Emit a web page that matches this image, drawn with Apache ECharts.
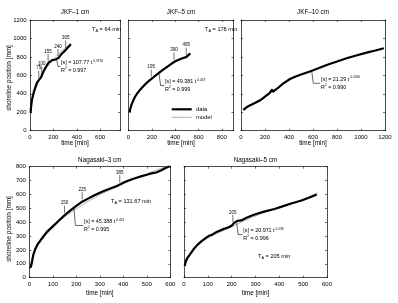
<!DOCTYPE html>
<html><head><meta charset="utf-8">
<script src="https://cdn.jsdelivr.net/npm/echarts@6/dist/echarts.min.js"></script>
<style>html,body{margin:0;padding:0;background:#fff}#c{width:398px;height:303px}</style>
</head><body><div id="c"></div>
<script>
// ---------- data ----------
const jkf1Time = [5, 8, 12, 18, 25, 32, 40, 50, 60, 68, 75, 85, 95, 105, 115, 130, 145, 160, 175, 190, 205, 220, 235, 245, 255, 270, 285, 300, 310, 320, 335, 350];
const jkf1Pos  = [190, 240, 290, 340, 380, 415, 448, 485, 520, 540, 548, 555, 580, 612, 642, 678, 710, 737, 755, 765, 770, 772, 775, 790, 808, 832, 852, 868, 882, 897, 918, 938];
const jkf1ModelTime = [5, 10, 20, 40, 60, 80, 100, 150, 200, 250, 300, 350];
const jkf1ModelPos  = [196, 253, 328, 424, 493, 549, 597, 694, 772, 839, 897, 950];
const jkf1Marks = [75, 100, 155, 240, 305];

const jkf5Time = [10, 15, 25, 40, 55, 75, 100, 125, 150, 175, 195, 220, 250, 280, 310, 340, 370, 390, 410, 440, 470, 495, 510, 530];
const jkf5Pos  = [200, 235, 280, 325, 365, 405, 445, 480, 512, 540, 560, 585, 615, 645, 673, 700, 728, 745, 757, 775, 788, 798, 815, 838];
const jkf5ModelTime = [10, 25, 50, 100, 150, 200, 300, 400, 500, 530];
const jkf5ModelPos  = [195, 272, 352, 442, 510, 565, 660, 745, 815, 832];
const jkf5Marks = [195, 390, 495];

const jkf10Time = [20, 40, 60, 90, 120, 160, 200, 240, 255, 260, 265, 300, 350, 408, 450, 500, 575, 650, 714, 800, 880, 960, 1047, 1120, 1190];
const jkf10Pos  = [225, 248, 265, 285, 302, 330, 370, 410, 425, 447, 422, 455, 510, 560, 585, 610, 642, 680, 713, 750, 785, 815, 846, 870, 894];
const jkf10ModelTime = [20, 50, 100, 200, 300, 400, 600, 800, 1000, 1190];
const jkf10ModelPos  = [215, 255, 295, 368, 455, 548, 655, 748, 830, 892];
const jkf10Marks = [];

const naga3Time = [3, 8, 12, 17, 25, 35, 50, 75, 100, 125, 150, 175, 200, 225, 250, 275, 300, 325, 350, 375, 390, 404, 425, 450, 475, 500, 520, 540, 560, 580, 600];
const naga3Pos  = [70, 85, 120, 165, 205, 240, 275, 330, 370, 410, 450, 485, 518, 548, 570, 592, 612, 630, 646, 662, 675, 688, 702, 717, 730, 742, 752, 758, 772, 790, 805];
const naga3ModelTime = [3, 10, 30, 50, 100, 150, 225, 300, 400, 500, 600];
const naga3ModelPos  = [72, 128, 210, 265, 362, 437, 524, 597, 677, 748, 813];
const naga3Marks = [150, 225, 385];

const naga5Time = [3, 8, 15, 25, 40, 55, 75, 95, 105, 110, 120, 137, 165, 185, 200, 210, 225, 232, 240, 260, 285, 309, 340, 380, 410, 450, 490, 521, 557];
const naga5Pos  = [85, 120, 145, 168, 205, 235, 265, 290, 302, 298, 312, 330, 350, 362, 375, 395, 410, 418, 413, 430, 448, 463, 478, 495, 512, 535, 555, 575, 600];
const naga5ModelTime = [3, 10, 25, 50, 100, 150, 200, 250, 300, 350, 400, 450, 500, 560];
const naga5ModelPos  = [78, 112, 162, 226, 285, 328, 368, 408, 445, 478, 510, 538, 565, 612];
const naga5Marks = [205];

// ---------- layout ----------
const FONT = '"Liberation Sans", Arial, Helvetica, sans-serif';
const panels = [
  {title:'JKF\u20131 cm', t:jkf1Time, s:jkf1Pos, mt:jkf1ModelTime, ms:jkf1ModelPos, marks:jkf1Marks,
   grid:{left:30, top:20, width:90, height:110.7}, xMax:770, xStep:200, yMax:1200, yStep:200, yLabels:true, row:0},
  {title:'JKF\u20135 cm', t:jkf5Time, s:jkf5Pos, mt:jkf5ModelTime, ms:jkf5ModelPos, marks:jkf5Marks,
   grid:{left:128.5, top:20, width:105, height:110.7}, xMax:900, xStep:200, yMax:1200, yStep:200, yLabels:false, row:0},
  {title:'JKF\u201310 cm', t:jkf10Time, s:jkf10Pos, mt:jkf10ModelTime, ms:jkf10ModelPos, marks:jkf10Marks,
   grid:{left:241, top:20, width:144, height:110.7}, xMax:1200, xStep:200, yMax:1200, yStep:200, yLabels:false, row:0},
  {title:'Nagasaki\u20133 cm', t:naga3Time, s:naga3Pos, mt:naga3ModelTime, ms:naga3ModelPos, marks:naga3Marks,
   grid:{left:29.3, top:166.7, width:141, height:111}, xMax:600, xStep:100, yMax:800, yStep:100, yLabels:true, row:1},
  {title:'Nagasaki\u20135 cm', t:naga5Time, s:naga5Pos, mt:naga5ModelTime, ms:naga5ModelPos, marks:naga5Marks,
   grid:{left:184, top:166.7, width:143, height:111}, xMax:600, xStep:100, yMax:800, yStep:100, yLabels:false, row:1}
];

const grid = [], xAxis = [], yAxis = [], series = [];
const zip = (a, b) => a.map((v, k) => [v, b[k]]);
panels.forEach((p, i) => {
  grid.push(Object.assign({show:false, containLabel:false, outerBoundsMode:'none'}, p.grid));
  const line = {show:true, onZero:false, lineStyle:{color:'#111', width:0.75}};
  const tick = {show:true, inside:true, length:2, lineStyle:{color:'#111', width:0.6}};
  const labX = {show:true, fontSize:6, color:'#000', fontFamily:FONT, margin: p.row === 0 ? 3.3 : 4.0,
    formatter: v => (Math.abs(v % p.xStep) < 1e-6 ? String(v) : '')};
  const labY = {show:p.yLabels, fontSize:6, color:'#000', fontFamily:FONT, margin:3.4,
    formatter: v => (Math.abs(v % p.yStep) < 1e-6 ? String(v) : '')};
  const base = {type:'value', gridIndex:i, splitLine:{show:false}, axisLine:line, axisTick:tick};
  xAxis.push(Object.assign({}, base, {position:'bottom', min:0, max:p.xMax, interval:p.xStep, axisLabel:labX}));
  xAxis.push(Object.assign({}, base, {position:'top', min:0, max:p.xMax, interval:p.xStep, axisLabel:{show:false}}));
  yAxis.push(Object.assign({}, base, {position:'left', min:0, max:p.yMax, interval:p.yStep, axisLabel:labY}));
  yAxis.push(Object.assign({}, base, {position:'right', min:0, max:p.yMax, interval:p.yStep, axisLabel:{show:false}}));
  series.push({type:'line', xAxisIndex:2*i, yAxisIndex:2*i, data:zip(p.mt, p.ms), showSymbol:false, smooth:0.3,
    lineStyle:{color:'#a9a9a9', width:0.9}, z:2, silent:true});
  series.push({type:'line', xAxisIndex:2*i, yAxisIndex:2*i, data:zip(p.t, p.s), showSymbol:false,
    lineStyle:{color:'#000', width:2.2}, z:3, silent:true});
});

const chart = echarts.init(document.getElementById('c'), null, {renderer:'canvas'});
chart.setOption({animation:false, backgroundColor:'#fff', grid, xAxis, yAxis, series});

// ---------- annotations ----------
function interp(ts, ss, t) {
  for (let k = 1; k < ts.length; k++) {
    if (t <= ts[k]) { const f = (t - ts[k-1]) / (ts[k] - ts[k-1]); return ss[k-1] + f * (ss[k] - ss[k-1]); }
  }
  return ss[ss.length - 1];
}
function px(i, t, s) { return chart.convertToPixel({seriesIndex: 2*i+1}, [t, s]); }
function txt(x, y, text, size, align, rich, rot) {
  const el = {type:'text', x, y, silent:true, z:10,
    style:{text, fill:'#000', fontSize:size, fontFamily:FONT, align:align || 'center', verticalAlign:'middle'}};
  if (rich) el.style.rich = rich;
  if (rot) el.rotation = rot;
  return el;
}
function seg(pts, color, w) {
  return {type:'polyline', silent:true, z:10, shape:{points:pts}, style:{stroke:color || '#000', lineWidth:w || 0.6, fill:null}};
}
const richFit = (sz) => ({
  a:{fontSize:sz, fontFamily:FONT, fill:'#000', lineHeight:7},
  b:{fontSize:sz*0.6, fontFamily:FONT, fill:'#000', lineHeight:3.6, verticalAlign:'top'},
  c:{fontSize:sz*0.7, fontFamily:FONT, fill:'#000', lineHeight:3.8, verticalAlign:'bottom'}
});

const g = [];
// titles and axis names
panels.forEach((p, i) => {
  const cx = p.grid.left + p.grid.width / 2;
  g.push(txt(cx, p.row === 0 ? 12.7 : 160, p.title, 6.3));
  g.push(txt(cx, p.row === 0 ? 143 : 292.8, 'time [min]', 6.4));
});
g.push(txt(9, 78, 'shoreline position [mm]', 6.4, 'center', null, Math.PI/2));
g.push(txt(9, 229, 'shoreline position [mm]', 6.4, 'center', null, Math.PI/2));

// time markers on curves
panels.forEach((p, i) => {
  p.marks.forEach(m => {
    const [x, y] = px(i, m, interp(p.t, p.s, m));
    g.push(seg([[x, y - 2.2], [x, y - 9.5]], '#000', 0.55));
    g.push(txt(x, y - 12, String(m), 4.5));
  });
});

// fit equations
const fitText = [
  {panel:0, at:228, x:61, y1:62.7, y2:70.3, coef:'107.77', exp:'0.3716', r2:'0.997'},
  {panel:1, at:262, x:165, y1:81.7, y2:89.3, coef:'49.381', exp:'0.447', r2:'0.999'},
  {panel:2, at:590, x:321, y1:79.3, y2:87.3, coef:'21.29', exp:'0.5266', r2:'0.990'},
  {panel:3, at:190, x:84, y1:221.7, y2:229.3, coef:'45.388', exp:'0.451', r2:'0.995'},
  {panel:4, at:221, x:243.3, y1:231, y2:238.3, coef:'20.971', exp:'0.539', r2:'0.996'}
];
fitText.forEach(f => {
  const p = panels[f.panel];
  const [x0, y0] = px(f.panel, f.at, interp(p.t, p.s, f.at));
  const ym = (f.y1 + f.y2) / 2;
  g.push(seg([[x0, y0 + 1], [x0 + 1.5, ym], [f.x - 0.8, ym]], '#000', 0.6));
  g.push(txt(f.x, f.y1, '{a|[s] = ' + f.coef + ' t}{b| ' + f.exp + '}', 5.4, 'left', richFit(5.4)));
  g.push(txt(f.x, f.y2, '{a|R}{b|2}{a| = ' + f.r2 + '}', 5.4, 'left', richFit(5.4)));
});

// T_A labels
const taText = [
  {x:92, y:29.3, v:'64 min'},
  {x:205, y:29.3, v:'178 min'},
  {x:111, y:201.7, v:'131.67 min'},
  {x:258, y:256, v:'205 min'}
];
taText.forEach(a => g.push(txt(a.x, a.y, '{a|T}{c|A}{a| = ' + a.v + '}', 5.6, 'left', richFit(5.6))));

// legend (JKF-5 cm panel)
g.push(seg([[171.7, 109.3], [191.7, 109.3]], '#000', 2.2));
g.push(txt(196, 109.3, 'data', 5.8, 'left'));
g.push(seg([[171.7, 117.3], [191.7, 117.3]], '#a9a9a9', 0.9));
g.push(txt(196, 117.3, 'model', 5.8, 'left'));

chart.setOption({graphic: g});
</script>
</body></html>
